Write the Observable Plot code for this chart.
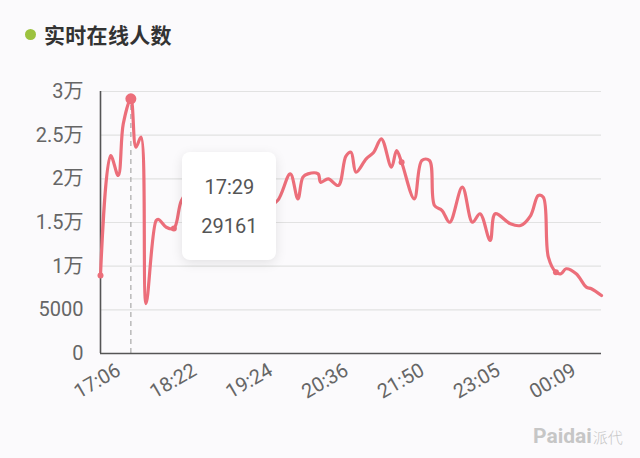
<!DOCTYPE html>
<html>
<head>
<meta charset="utf-8">
<script src="https://cdn.jsdelivr.net/npm/d3@7"></script>
<script src="https://cdn.jsdelivr.net/npm/@observablehq/plot@0.6"></script>
<style>
  html, body { margin: 0; padding: 0; background: #fbfafc; }
  #wrap { position: relative; width: 640px; height: 458px; overflow: hidden; font-family: Roboto, "Noto Sans CJK SC", sans-serif; }
  #title { position: absolute; left: 25px; top: 19px; height: 30px; display: flex; align-items: center; }
  #title .dot { width: 11px; height: 11px; border-radius: 50%; background: #9cc23f; margin-right: 8px; }
  #title .txt { font-family: "Noto Sans CJK SC", sans-serif; font-weight: 700; font-size: 21px; color: #333; letter-spacing: 0.3px; }
  #tip { position: absolute; width: 94px; height: 108px; background: #fff; border-radius: 8px;
         box-shadow: 0 3px 12px rgba(0,0,0,0.10); font-family: Roboto, sans-serif; font-size: 20px; color: #555; }
  #tip div { position: absolute; left: 0; width: 100%; text-align: center; line-height: 24px; }
  #wm { position: absolute; left: 533px; top: 424px; color: #c6c6c6; white-space: nowrap; }
  #wm .a { font-family: Roboto, sans-serif; font-weight: 700; font-size: 21px; }
  #wm .b { font-family: "Noto Sans CJK SC", sans-serif; font-size: 15px; font-weight: 300; margin-left: 1px; }
</style>
</head>
<body>
<div id="wrap">
  <div id="title"><span class="dot"></span><span class="txt">实时在线人数</span></div>
</div>
<script>
// ---- data ----
const tickLabels = ["17:06", "18:22", "19:24", "20:36", "21:50", "23:05", "00:09"];
const tickIndex = [0, 30, 60, 90, 120, 150, 180];
const yTicks = [0, 5000, 10000, 15000, 20000, 25000, 30000];
const yTickLabels = ["0", "5000", "1万", "1.5万", "2万", "2.5万", "3万"];

const sampleIndex = [0, 4, 7, 9, 12, 14, 16, 18, 22, 23, 26, 29, 32, 35, 40, 47, 55, 62, 66, 70,
  75, 78, 80, 82, 86, 87, 90, 94, 97, 99, 101, 105, 108, 111, 115, 117, 119, 124, 127, 130,
  132, 135, 138, 143, 147, 150, 154, 156, 162, 166, 170, 173, 175, 177, 180, 182, 184, 188, 192, 194, 198];
const onlineUsers = [8930, 22670, 20380, 26300, 29161, 23620, 24770, 5720, 15230, 15340, 14460, 14310, 17520, 18500, 17800, 18300, 17600, 17900, 16900, 17520,
  20570, 17710, 20190, 20570, 20570, 19610, 20000, 19240, 22600, 23050, 20760, 22290, 23050, 24580, 21330, 23240, 21900, 17710, 22100, 22100,
  16950, 16370, 15030, 19050, 15030, 16000, 12940, 16000, 14850, 14660, 15800, 18090, 17900, 11030, 9310, 9130, 9700, 9130, 7600, 7410, 6640];
const markedIndex = [0, 29, 119, 180];

const tooltipIndex = 12;
const tooltipTime = "17:29";
const tooltipValue = 29161;

// ---- build ----
const series = sampleIndex.map((x, i) => ({x, y: onlineUsers[i]}));
const marked = series.filter(d => markedIndex.includes(d.x));
const ticks = tickIndex.map((x, i) => ({x, label: tickLabels[i]}));
const yt = yTicks.map((y, i) => ({y, label: yTickLabels[i]}));
const lineColor = "#ec6e7a";

const chart = Plot.plot({
  width: 640,
  height: 458,
  marginLeft: 100,
  marginRight: 39,
  marginTop: 91,
  marginBottom: 105,
  x: {domain: [0, 198], axis: null},
  y: {domain: [0, 30000], axis: null},
  style: {background: "transparent", fontFamily: "Roboto, 'Noto Sans CJK SC', sans-serif", overflow: "visible"},
  marks: [
    Plot.ruleY(yTicks.slice(1), {stroke: "#e2e2e2", strokeWidth: 1.2}),
    Plot.ruleX([tooltipIndex], {y1: 0, y2: tooltipValue, stroke: "#a9a9a9", strokeWidth: 1.2, strokeDasharray: "5,4"}),
    Plot.ruleX([0], {stroke: "#555", strokeWidth: 1.6}),
    Plot.ruleY([0], {stroke: "#555", strokeWidth: 1.6}),
    Plot.line(series, {x: "x", y: "y", curve: "catmull-rom", stroke: lineColor, strokeWidth: 3.2, strokeLinejoin: "round", strokeLinecap: "round"}),
    Plot.dot(marked, {x: "x", y: "y", r: 3, fill: lineColor}),
    Plot.dot([{x: tooltipIndex, y: tooltipValue}], {x: "x", y: "y", r: 5.5, fill: lineColor}),
    Plot.text(yt, {y: "y", text: "label", frameAnchor: "left", textAnchor: "end", dx: -17, fontSize: 20, fill: "#666"}),
    Plot.text(ticks, {x: "x", text: "label", frameAnchor: "bottom", textAnchor: "middle", rotate: -30, dy: 33, fontSize: 20, fill: "#666"})
  ]
});

const wrap = document.getElementById("wrap");
chart.style.position = "absolute";
chart.style.left = "0px";
chart.style.top = "0px";
wrap.appendChild(chart);

// tooltip anchored to the highlighted datum
const px = chart.scale("x").apply(tooltipIndex);
const py = chart.scale("y").apply(tooltipValue);
const tip = document.createElement("div");
tip.id = "tip";
tip.style.left = (px + 52) + "px";
tip.style.top = (py + 54) + "px";
tip.innerHTML = `<div style="top:23px">${tooltipTime}</div><div style="top:62px">${tooltipValue}</div>`;
wrap.appendChild(tip);

// watermark
const wm = document.createElement("div");
wm.id = "wm";
wm.innerHTML = `<span class="a">Paidai</span><span class="b">派代</span>`;
wrap.appendChild(wm);
</script>
</body>
</html>
